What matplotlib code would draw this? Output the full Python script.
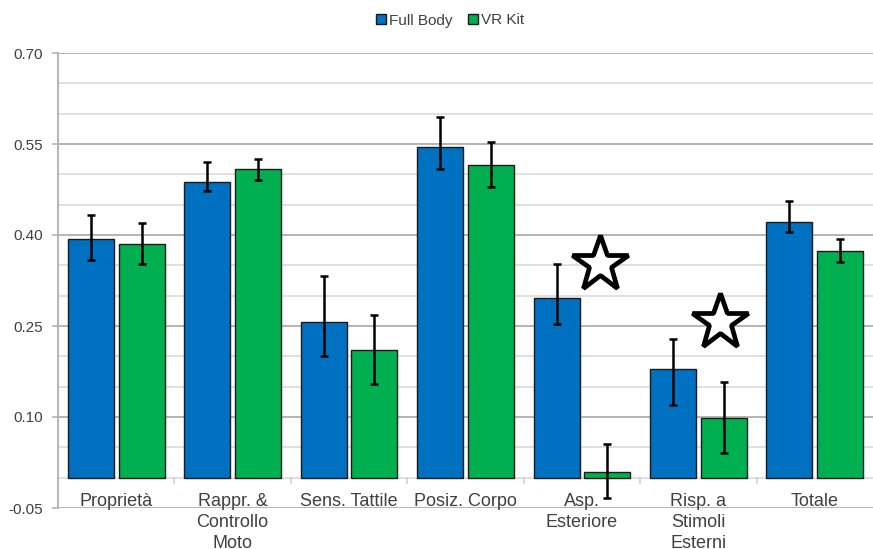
import numpy as np
import matplotlib
matplotlib.use('Agg')
import matplotlib.pyplot as plt

plt.rcParams['font.family'] = ['Liberation Sans', 'DejaVu Sans']

categories = ["Proprietà", "Rappr. &\nControllo\nMoto", "Sens. Tattile", "Posiz. Corpo",
              "Asp.\nEsteriore", "Risp. a\nStimoli\nEsterni", "Totale"]

full_body = [0.393, 0.488, 0.257, 0.545, 0.296, 0.179, 0.421]
full_body_err_low = [0.035, 0.016, 0.057, 0.036, 0.042, 0.060, 0.016]
full_body_err_high = [0.040, 0.033, 0.076, 0.050, 0.056, 0.050, 0.035]

vr_kit = [0.385, 0.508, 0.210, 0.516, 0.010, 0.099, 0.374]
vr_kit_err_low = [0.033, 0.017, 0.056, 0.037, 0.044, 0.058, 0.018]
vr_kit_err_high = [0.034, 0.017, 0.058, 0.038, 0.045, 0.059, 0.019]

y_ticks = [-0.05, 0.10, 0.25, 0.40, 0.55, 0.70]

BLUE = '#0070C0'
GREEN = '#00B050'
TEXT = '#404040'

fig = plt.figure(figsize=(8.73, 5.49), dpi=100)
ax = fig.add_axes([58 / 873, 41 / 549, 815 / 873, 455 / 549])

x = np.arange(len(categories))
width = 0.395
offset = 0.2175

# minor and major horizontal grid
for v in np.arange(-0.05, 0.701, 0.05):
    major = any(abs(v - t) < 1e-6 for t in y_ticks)
    ax.axhline(v, color='#b4b4b4' if major else '#e0e0e0', lw=1.4, zorder=0)

# category separators on the zero line
for b in np.arange(0.5, len(categories) - 1, 1.0):
    ax.plot([b, b], [0, -0.008], color='#d0d0d0', lw=1.2, zorder=0, clip_on=False)

err_kw = dict(ecolor='black', elinewidth=1.8, capsize=2.8, capthick=1.8)
ax.bar(x - offset, full_body, width, color=BLUE, edgecolor='#1a1a1a', lw=1.0,
       yerr=[full_body_err_low, full_body_err_high], error_kw=err_kw,
       label='Full Body', zorder=2)
ax.bar(x + offset, vr_kit, width, color=GREEN, edgecolor='#1a1a1a', lw=1.0,
       yerr=[vr_kit_err_low, vr_kit_err_high], error_kw=err_kw,
       label='VR Kit', zorder=2)

# significance stars
star_x = [4.155, 5.186]
star_y = [0.352, 0.257]
ax.plot(star_x, star_y, ls='none', marker='*', ms=42, mfc='white', mec='black',
        mew=3.4, zorder=5, clip_on=False)

ax.set_xlim(-0.5, len(categories) - 0.5)
ax.set_ylim(-0.05, 0.70)
ax.set_yticks(y_ticks)
ax.set_yticklabels([f"{t:.2f}" for t in y_ticks])
ax.set_xticks(x)
ax.set_xticklabels(categories, linespacing=1.32)
ax.tick_params(axis='x', length=0, pad=-11, labelsize=13, labelcolor=TEXT)
ax.tick_params(axis='y', length=4, width=1.2, color='#b4b4b4', pad=7,
               labelsize=11, labelcolor=TEXT)

for side in ['top', 'right', 'bottom']:
    ax.spines[side].set_visible(False)
ax.spines['left'].set_color('#b4b4b4')
ax.spines['left'].set_linewidth(1.4)

leg = fig.legend(loc='center', bbox_to_anchor=(450 / 873, 1 - 20.5 / 549), ncol=2,
                 frameon=False, fontsize=11, handlelength=0.65, handleheight=0.65,
                 handletextpad=0.2, columnspacing=1.0, labelcolor=TEXT)

fig.savefig('out.png', dpi=100)
